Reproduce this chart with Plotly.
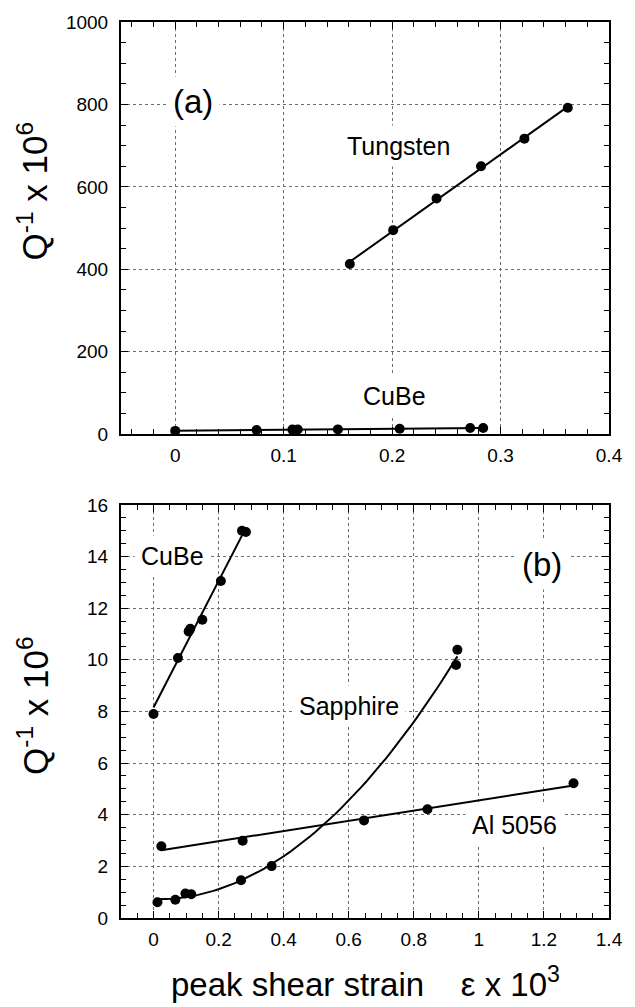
import numpy as np
import plotly.graph_objects as go

# Panel (a): internal friction vs. peak shear strain (x 10^3)
tungsten_x = [0.161, 0.201, 0.241, 0.282, 0.322, 0.362]
tungsten_y = [413, 495, 572, 650, 717, 792]

cube_x = [0.0, 0.075, 0.108, 0.113, 0.150, 0.207, 0.272, 0.284]
cube_y = [7.9, 10.07, 11.1, 11.2, 11.55, 13.05, 15.0, 14.95]

# Panel (b): low-loss materials
sapphire_x = [0.012, 0.067, 0.098, 0.116, 0.269, 0.363, 0.930, 0.934]
sapphire_y = [0.61, 0.71, 0.95, 0.92, 1.46, 2.01, 9.8, 10.39]

al_x = [0.024, 0.274, 0.647, 0.842, 1.291]
al_y = [2.78, 2.99, 3.78, 4.21, 5.22]

FONT = "Liberation Sans, Arial, sans-serif"
BLACK = "black"


def fit_curve(x, y, deg, n=60):
    coef = np.polyfit(x, y, deg)
    xs = np.linspace(min(x), max(x), n)
    return xs, np.polyval(coef, xs)


fig = go.Figure()


def add_series(x, y, deg, xa, ya):
    xs, ys = fit_curve(x, y, deg)
    fig.add_trace(go.Scatter(x=xs, y=ys, mode="lines", xaxis=xa, yaxis=ya,
                             line=dict(color=BLACK, width=2), showlegend=False,
                             hoverinfo="skip"))
    fig.add_trace(go.Scatter(x=x, y=y, mode="markers", xaxis=xa, yaxis=ya,
                             marker=dict(color=BLACK, size=10), showlegend=False))


# top panel
add_series(tungsten_x, tungsten_y, 1, "x", "y")
add_series(cube_x, cube_y, 1, "x", "y")
# bottom panel
add_series(cube_x, cube_y, 1, "x2", "y2")
add_series(sapphire_x, sapphire_y, 2, "x2", "y2")
add_series(al_x, al_y, 1, "x2", "y2")

axis_common = dict(
    showline=True, linecolor=BLACK, linewidth=2, mirror="ticks",
    ticks="inside", ticklen=7, tickwidth=1, tickcolor=BLACK,
    showgrid=True, gridcolor="#6e6e6e", gridwidth=1, griddash="dot",
    zeroline=False,
    tickfont=dict(family=FONT, size=19, color=BLACK),
)

fig.update_layout(
    width=635, height=1007,
    margin=dict(l=121, r=15, t=18, b=89),
    paper_bgcolor="white", plot_bgcolor="white",
    font=dict(family=FONT, color=BLACK),
    xaxis=dict(domain=[0, 1], anchor="y", range=[-0.05, 0.4], tick0=0, dtick=0.1,
               ticklabelstandoff=3,
               minor=dict(dtick=0.02, ticks="inside", ticklen=5, tickcolor=BLACK, showgrid=False),
               **axis_common),
    yaxis=dict(domain=[0.54, 1.0], anchor="x", range=[0, 1000], dtick=200,
               ticklabelstandoff=7,
               minor=dict(dtick=50, ticks="inside", ticklen=5, tickcolor=BLACK, showgrid=False),
               **axis_common),
    xaxis2=dict(domain=[0, 1], anchor="y2", range=[-0.1, 1.4], tick0=0, dtick=0.2,
                ticklabelstandoff=3,
                minor=dict(dtick=0.05, ticks="inside", ticklen=5, tickcolor=BLACK, showgrid=False),
                **axis_common),
    yaxis2=dict(domain=[0, 0.4611], anchor="x2", range=[0, 16], dtick=2,
                ticklabelstandoff=7,
                minor=dict(dtick=0.5, ticks="inside", ticklen=5, tickcolor=BLACK, showgrid=False),
                **axis_common),
)


def label(text, x, y, xref, yref, size=25):
    fig.add_annotation(text=text, x=x, y=y, xref=xref, yref=yref, showarrow=False,
                       font=dict(family=FONT, size=size, color=BLACK),
                       bgcolor="white", borderpad=6, xanchor="center", yanchor="middle")


label("(a)", 0.016, 808, "x", "y", size=33)
label("Tungsten", 0.206, 698, "x", "y")
label("CuBe", 0.202, 92, "x", "y")

label("CuBe", 0.057, 14.03, "x2", "y2")
label("(b)", 1.195, 13.69, "x2", "y2", size=33)
label("Sapphire", 0.602, 8.21, "x2", "y2")
label("Al 5056", 1.108, 3.62, "x2", "y2")

ytitle = "Q<sup>-1</sup> x 10<sup>6</sup>"
for yp in (0.812, 0.2378):
    fig.add_annotation(text=ytitle, x=-0.1804, y=yp, xref="paper", yref="paper",
                       showarrow=False, textangle=-90,
                       font=dict(family=FONT, size=35, color=BLACK),
                       xanchor="center", yanchor="middle")

fig.add_annotation(text="peak shear strain    ε x 10<sup>3</sup>", x=0.502, y=-0.0711,
                   xref="paper", yref="paper", showarrow=False,
                   font=dict(family=FONT, size=33, color=BLACK),
                   xanchor="center", yanchor="middle")

fig.write_html("out.html")
